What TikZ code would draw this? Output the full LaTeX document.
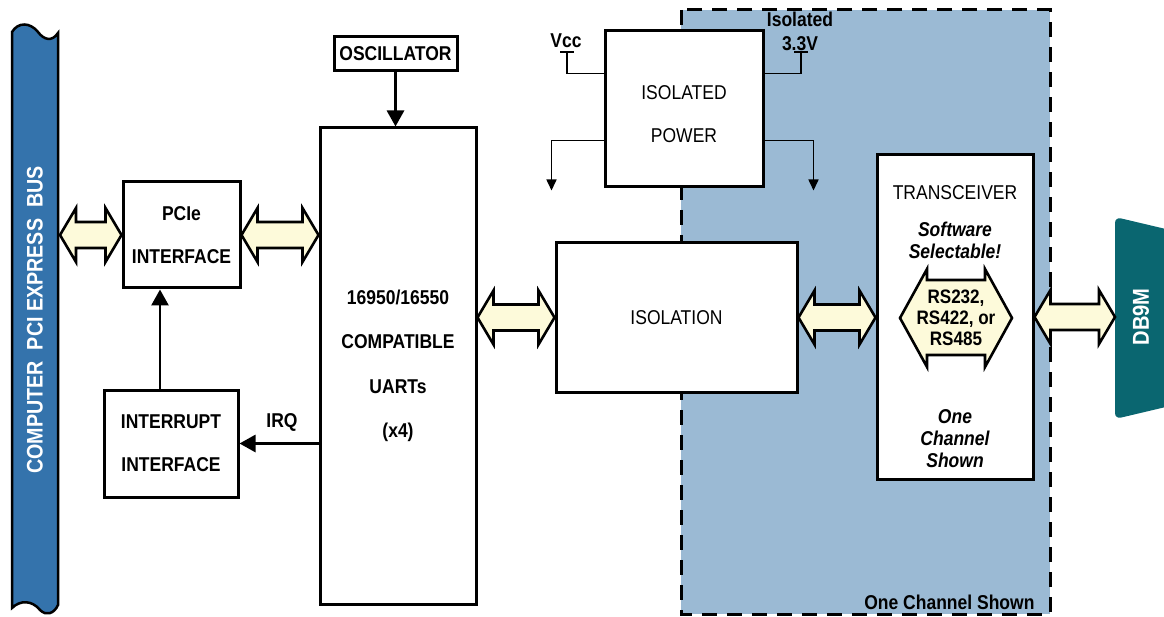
\documentclass[tikz,border=0pt]{standalone}
\usepackage{fontspec}
\setmainfont{Liberation Sans}[FakeStretch=0.875]
\usetikzlibrary{arrows.meta,calc}

\definecolor{busblue}{RGB}{52,115,172}
\definecolor{isoblue}{RGB}{155,186,212}
\definecolor{dbteal}{RGB}{10,102,112}
\definecolor{pipefill}{RGB}{253,250,218}

\tikzset{
  block/.style={draw=black, line width=3pt, fill=white, inner sep=0pt, align=center},
  pipe/.style={draw=black, line width=2.6pt, fill=pipefill, line join=miter},
  sig/.style={line width=2.8pt, -{Triangle[length=16pt,width=17pt]}},
  wire/.style={line width=1.6pt},
  gnd/.style={wire, -{Triangle[length=11pt,width=10pt]}},
}

% fat two-way bus arrow between two points on one level
\newcommand{\buspipe}[2]{%
  \draw[pipe] (#1) -- ++(16,-27) -- ++(0,14) -- ($(#2)+(-16,-13)$) -- ++(0,-14) -- (#2)
    -- ++(-16,27) -- ++(0,-14) -- ($(#1)+(16,13)$) -- ++(0,14) -- cycle;}

\begin{document}
\begin{tikzpicture}[x=1pt,y=-1pt]
\useasboundingbox (0,0) rectangle (1164,617);

% isolated side
\draw[fill=isoblue, line width=3pt, dash pattern=on 15pt off 10pt] (681,10) rectangle (1050,614);
\node[font=\bfseries\fontsize{20}{21}\selectfont, anchor=base east] (chan) at (1038,609) {One Channel Shown};

% PCI express bus
\draw[fill=busblue, line width=2.5pt] (12,32) .. controls (18,22) and (30,22) .. (38,32)
  .. controls (44,40) and (52,42) .. (58,33) -- (58,605)
  .. controls (54,614) and (46,616) .. (40,610) .. controls (32,600) and (20,600) .. (12,608) -- cycle;
\node[rotate=90, text=white, font=\bfseries\fontsize{22.5}{23}\selectfont] (bus) at (35,320) {COMPUTER\ \ PCI EXPRESS\ \ BUS};
\coordinate (busport) at (60,235);

% DB9M connector
\fill[dbteal, rounded corners=6pt] (1170,230) -- (1115,217) -- (1115,419) -- (1170,406) -- cycle;
\node[rotate=90, text=white, font=\bfseries\fontsize{23}{23}\selectfont] (db9) at (1141,317) {DB9M};
\coordinate (db9port) at (1115,317);

\node[block, minimum width=117pt, minimum height=106pt, font=\bfseries\fontsize{20}{43}\selectfont] (pcie) at (181.5,235) {PCIe\\INTERFACE};
\node[block, minimum width=123pt, minimum height=34pt, font=\bfseries\fontsize{20}{21}\selectfont] (osc) at (395.5,54) {OSCILLATOR};
\node[block, minimum width=156pt, minimum height=476pt, font=\bfseries\fontsize{20}{44.5}\selectfont] (uart) at (398,366) {16950/16550\\COMPATIBLE\\UARTs\\(x4)};
\node[block, minimum width=134pt, minimum height=107pt, font=\bfseries\fontsize{20}{43}\selectfont] (intr) at (171,443.5) {INTERRUPT\\INTERFACE};
\node[block, minimum width=158pt, minimum height=156pt, font=\fontsize{20}{43}\selectfont] (pwr) at (684,109) {\rule{0pt}{24pt}ISOLATED\\POWER};
\node[block, minimum width=241pt, minimum height=149pt, font=\fontsize{20}{21}\selectfont] (iso) at (676.5,317.5) {ISOLATION};
\node[block, minimum width=156pt, minimum height=324pt] (xcvr) at (955,317) {};

\node[font=\fontsize{20}{21}\selectfont] (xcvrname) at (955,193) {TRANSCEIVER};
\node[align=center, font=\bfseries\itshape\fontsize{20}{22}\selectfont] (swsel) at (955,240) {Software\\Selectable!};
\node[align=center, font=\bfseries\itshape\fontsize{20}{22}\selectfont] (onech) at (955,439) {One\\Channel\\Shown};

% selectable interface
\draw[pipe] (900,318) -- (927,269) -- (927,280) -- (985,280) -- (985,269) -- (1012,318)
  -- (985,367) -- (985,355) -- (927,355) -- (927,367) -- cycle;
\node[align=center, font=\bfseries\fontsize{19.5}{21}\selectfont] (rsmode) at (956,318) {RS232,\\RS422, or\\RS485};

% buses
\buspipe{busport}{pcie.west}
\buspipe{pcie.east}{uart.west |- pcie.east}
\buspipe{uart.east |- iso.west}{iso.west}
\buspipe{iso.east}{xcvr.west |- iso.east}
\buspipe{xcvr.east}{db9port}

% control lines
\draw[sig] (osc.south) -- (osc.south |- uart.north);
\draw[sig] (uart.west |- intr.east) -- (intr.east);
\draw[sig] ([xshift=-11pt]intr.north) -- ([xshift=-21.5pt]pcie.south);
\node[font=\bfseries\fontsize{20}{21}\selectfont] (irq) at (282,422) {IRQ};

% power
\node[font=\bfseries\fontsize{20}{21}\selectfont] (vcc) at (566,41) {Vcc};
\node[align=center, font=\bfseries\fontsize{20}{24}\selectfont] (iso33) at (800,31) {Isolated\\3.3V};
\coordinate (vccpin) at (567,52);
\coordinate (isopin) at (801,52);
\draw[wire] ([yshift=-44pt]pwr.north west) -| (vccpin);
\draw[wire] ($(vccpin)+(-7,0)$) -- ($(vccpin)+(7,0)$);
\draw[wire] ([yshift=-44pt]pwr.north east) -| (isopin);
\draw[wire] ($(isopin)+(-7,0)$) -- ($(isopin)+(7,0)$);
\draw[gnd] ([yshift=-111pt]pwr.north west) -| ++(-52,50);
\draw[gnd] ([yshift=-111pt]pwr.north east) -| ++(49,50);

\end{tikzpicture}
\end{document}
